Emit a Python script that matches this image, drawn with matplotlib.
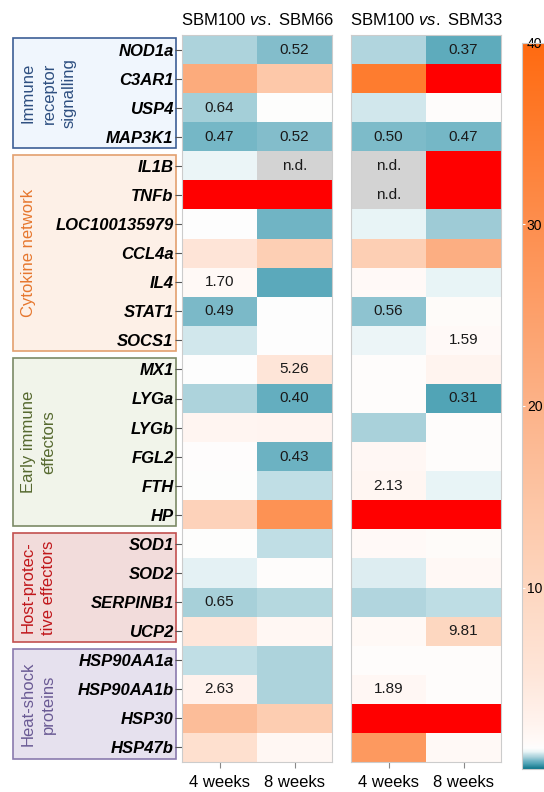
import numpy as np
import matplotlib
matplotlib.use("Agg")
import matplotlib.pyplot as plt
from matplotlib.colors import LinearSegmentedColormap, Normalize
from matplotlib.patches import Rectangle
from matplotlib.transforms import blended_transform_factory

plt.rcParams['font.family'] = ['Liberation Sans', 'DejaVu Sans']
plt.rcParams['mathtext.fontset'] = 'custom'
plt.rcParams['mathtext.rm'] = 'Liberation Sans'
plt.rcParams['mathtext.it'] = 'Liberation Sans:italic'

nan = np.nan

genes = ["NOD1a", "C3AR1", "USP4", "MAP3K1",
         "IL1B", "TNFb", "LOC100135979", "CCL4a", "IL4", "STAT1", "SOCS1",
         "MX1", "LYGa", "LYGb", "FGL2", "FTH", "HP",
         "SOD1", "SOD2", "SERPINB1", "UCP2",
         "HSP90AA1a", "HSP90AA1b", "HSP30", "HSP47b"]

group_names = ["Immune\nreceptor\nsignalling", "Cytokine network",
               "Early immune\neffectors", "Host-protec-\ntive effectors",
               "Heat-shock\nproteins"]
group_sizes = [4, 7, 6, 4, 4]
group_text = ["#2e4f80", "#e6772e", "#56692f", "#c0161a", "#6a5a94"]
group_edge = ["#3d5f96", "#e3a06e", "#7c8a66", "#c2504f", "#8a7aae"]
group_face = ["#f0f6fd", "#fdf0e7", "#f1f4ea", "#f2dcdb", "#e6e1ee"]

titles = ["SBM100 $\\mathit{vs.}$ SBM66", "SBM100 $\\mathit{vs.}$ SBM33"]
weeks = ["4 weeks", "8 weeks"]

# fold changes (values above 40 shown in red, nan = n.d.)
sbm66_4w = [0.68, 22, 0.64, 0.47, 0.97, 45, 1.15, 5.5, 1.70, 0.49, 0.85,
            1.15, 0.68, 2.2, 1.25, 1.2, 11, 1.2, 0.93, 0.65, 5, 0.78, 2.63, 17, 7]
sbm66_8w = [0.52, 14, 1.2, 0.52, nan, 45, 0.45, 12, 0.36, 1.15, 1.15,
            5.26, 0.40, 2.3, 0.43, 0.78, 29, 0.78, 1.3, 0.72, 2.0, 0.68, 0.68, 12.5, 2.0]
sbm33_4w = [0.7, 35, 0.85, 0.50, nan, nan, 0.95, 12, 1.6, 0.56, 0.98,
            1.3, 1.3, 0.66, 1.9, 2.13, 45, 1.6, 0.9, 0.7, 1.7, 1.3, 1.89, 45, 27]
sbm33_8w = [0.37, 45, 1.3, 0.47, 45, 45, 0.62, 21, 0.95, 1.4, 1.59,
            2.4, 0.31, 1.3, 1.3, 0.95, 45, 1.4, 1.8, 0.77, 9.81, 1.3, 1.3, 45, 1.7]

# significant values printed in the cells
lab66_4w = ["", "", "0.64", "0.47", "", "", "", "", "1.70", "0.49", "",
            "", "", "", "", "", "", "", "", "0.65", "", "", "2.63", "", ""]
lab66_8w = ["0.52", "", "", "0.52", "n.d.", "", "", "", "", "", "",
            "5.26", "0.40", "", "0.43", "", "", "", "", "", "", "", "", "", ""]
lab33_4w = ["", "", "", "0.50", "n.d.", "n.d.", "", "", "", "0.56", "",
            "", "", "", "", "2.13", "", "", "", "", "", "", "1.89", "", ""]
lab33_8w = ["0.37", "", "", "0.47", "", "", "", "", "", "", "1.59",
            "", "0.31", "", "", "", "", "", "", "", "9.81", "", "", "", ""]

nodes = [(0, "#0c7489"), (0.3, "#4fa3b5"), (0.45, "#70b4c4"), (0.55, "#8cc2cf"),
         (0.65, "#a7d0d9"), (0.8, "#c5e1e7"), (0.95, "#e9f4f6"), (1.15, "#fdfdfd"),
         (1.5, "#fffaf8"), (2.5, "#fff3ee"), (5.3, "#fee5d8"), (10, "#fdd6bf"),
         (20, "#fcb288"), (30, "#fd8e4e"), (40, "#ff6a10")]
cmap = LinearSegmentedColormap.from_list("fc", [(v / 40, c) for v, c in nodes],
                                         N=8192)
cmap.set_over("#ff0000")
cmap.set_bad("#d3d3d3")
norm = Normalize(vmin=0, vmax=40)

W, H = 544, 792
fig = plt.figure(figsize=(W / 100, H / 100), dpi=100)

panels = [(np.array([sbm66_4w, sbm66_8w]).T, [lab66_4w, lab66_8w], 182),
          (np.array([sbm33_4w, sbm33_8w]).T, [lab33_4w, lab33_8w], 351)]
n = len(genes)
axes = []
for i, (vals, labs, x0) in enumerate(panels):
    ax = fig.add_axes([x0 / W, 1 - 762 / H, 150 / W, 727 / H])
    mesh = ax.pcolormesh(np.arange(3), np.arange(n + 1),
                         np.ma.masked_invalid(vals), cmap=cmap, norm=norm)
    ax.set_xlim(0, 2)
    ax.set_ylim(n, 0)
    for c in range(2):
        for r in range(n):
            if labs[c][r]:
                ax.text(c + 0.5, r + 0.5, labs[c][r], ha='center', va='center',
                        fontsize=11, color='#1a1a1a')
    ax.set_xticks([0.5, 1.5], weeks, fontsize=12)
    ax.tick_params(axis='x', length=4, color='#888888', pad=5.5)
    if i == 0:
        ax.set_yticks(np.arange(n) + 0.5, genes, fontsize=12,
                      fontstyle='italic', fontweight='bold')
        ax.tick_params(axis='y', length=5, color='#555555', pad=1)
    else:
        ax.set_yticks([])
    for s in ax.spines.values():
        s.set_color('#cccccc')
        s.set_linewidth(0.8)
    ax.set_title(titles[i], fontsize=12, pad=7)
    axes.append(ax)

# group boxes
ax1 = axes[0]
tr = blended_transform_factory(fig.transFigure, ax1.transData)
start = 0
for name, size, tc, ec, fc in zip(group_names, group_sizes, group_text,
                                  group_edge, group_face):
    ax1.add_patch(Rectangle((13 / W, start + 0.12), 163 / W, size - 0.24,
                            transform=tr, clip_on=False, facecolor=fc,
                            edgecolor=ec, linewidth=1.2, zorder=0))
    ax1.text(21 / W, start + size / 2, name, transform=tr, rotation=90,
             ha='left', va='center', multialignment='center', fontsize=12,
             color=tc, linespacing=1.45)
    start += size

# colorbar
cax = fig.add_axes([522 / W, 1 - 769 / H, 40 / W, 726 / H])
cb = fig.colorbar(mesh, cax=cax)
cb.outline.set_edgecolor('#cccccc')
cb.outline.set_linewidth(0.8)
cax.yaxis.set_ticks_position('left')
cax.set_yticks([10, 20, 30, 40], ["10", "20", "30", "40"], ha='left', fontsize=10)
cax.tick_params(axis='y', direction='in', length=2, color='white', pad=-3.5)

plt.savefig('out.png', dpi=100)
plt.close()
